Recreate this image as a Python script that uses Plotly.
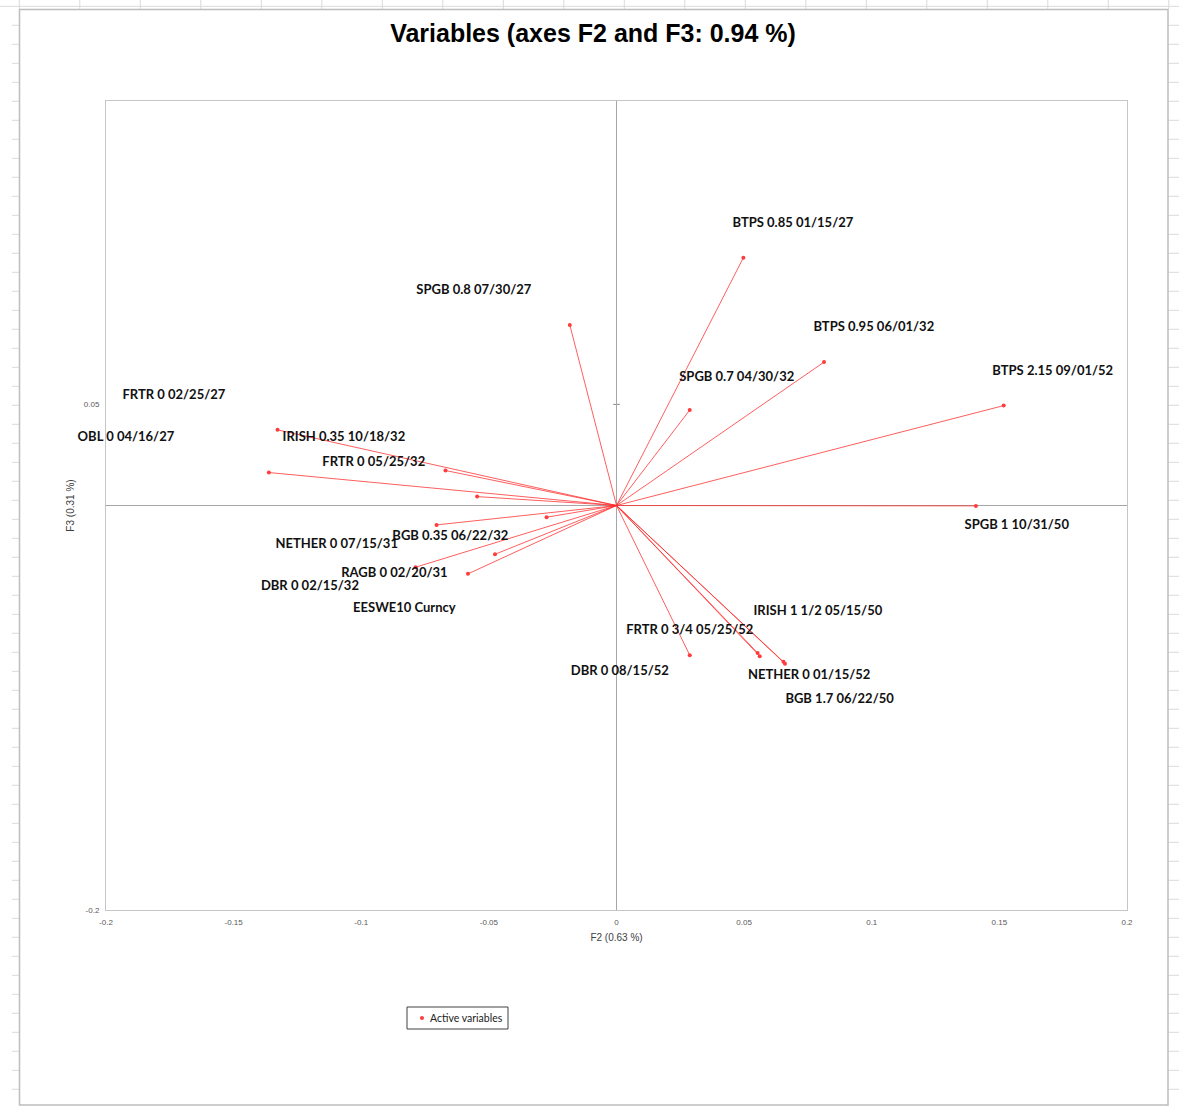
import plotly.graph_objects as go

# Correlation circle data: coordinates of each variable on factors F2 and F3
variables = [
    "BTPS 0.85 01/15/27", "SPGB 0.8 07/30/27", "BTPS 0.95 06/01/32", "SPGB 0.7 04/30/32",
    "BTPS 2.15 09/01/52", "SPGB 1 10/31/50", "FRTR 0 02/25/27", "OBL 0 04/16/27",
    "IRISH 0.35 10/18/32", "FRTR 0 05/25/32", "NETHER 0 07/15/31", "BGB 0.35 06/22/32",
    "RAGB 0 02/20/31", "DBR 0 02/15/32", "EESWE10 Curncy", "IRISH 1 1/2 05/15/50",
    "FRTR 0 3/4 05/25/52", "DBR 0 08/15/52", "NETHER 0 01/15/52", "BGB 1.7 06/22/50",
]
f2 = [0.0497, -0.0183, 0.0813, 0.0287, 0.1517, 0.1408, -0.0546, -0.1362,
      -0.1328, -0.0670, -0.0705, -0.0274, -0.0476, -0.0787, -0.0582, 0.0654,
      0.0553, 0.0287, 0.0561, 0.0660]
f3 = [0.1225, 0.0893, 0.0709, 0.0472, 0.0494, -0.0002, 0.0044, 0.0163,
      0.0374, 0.0173, -0.0096, -0.0058, -0.0241, -0.0305, -0.0338, -0.0773,
      -0.0729, -0.0740, -0.0745, -0.0782]

# Where each variable name is written (axis units)
label_f2 = [0.0691, -0.0559, 0.1008, 0.0471, 0.1709, 0.1568, -0.1734, -0.1922,
            -0.1068, -0.0951, -0.1096, -0.0651, -0.0870, -0.1201, -0.0831, 0.0789,
            0.0287, 0.0013, 0.0755, 0.0874]
label_f3 = [0.1393, 0.1062, 0.0880, 0.0634, 0.0661, -0.0101, 0.0542, 0.0335,
            0.0335, 0.0213, -0.0196, -0.0156, -0.0338, -0.0401, -0.0510, -0.0526,
            -0.0617, -0.0821, -0.0844, -0.0962]

x_ticks = [-0.2, -0.15, -0.1, -0.05, 0, 0.05, 0.1, 0.15, 0.2]
x_tick_text = ["-0.2", "-0.15", "-0.1", "-0.05", "0", "0.05", "0.1", "0.15", "0.2"]
y_ticks = [-0.2, 0.05]
y_tick_text = ["-0.2", "0.05"]

title_text = "Variables (axes F2 and F3: 0.94 %)"
x_title = "F2 (0.63 %)"
y_title = "F3 (0.31 %)"
legend_name = "Active variables"

# Page geometry
FIG_W, FIG_H = 1179, 1106
M_L, M_R, M_T, M_B = 106, 52, 101, 196
PLOT_W = FIG_W - M_L - M_R
PLOT_H = FIG_H - M_T - M_B


def paper_x(px):
    return (px - M_L) / PLOT_W


def paper_y(py):
    return (M_T + PLOT_H - py) / PLOT_H


RED_LINE = "rgba(255,40,40,0.75)"
RED_DOT = "#ff3b3b"

# Vectors from the origin to every variable
vx, vy = [], []
for a, b in zip(f2, f3):
    vx += [0, a, None]
    vy += [0, b, None]

fig = go.Figure()
fig.add_trace(go.Scatter(
    x=vx, y=vy, mode="lines",
    line=dict(color=RED_LINE, width=1),
    hoverinfo="skip", showlegend=False,
))
fig.add_trace(go.Scatter(
    x=f2, y=f3, mode="markers", name=legend_name,
    marker=dict(color=RED_DOT, size=4), showlegend=False,
    text=variables, hovertemplate="%{text}<br>F2=%{x}<br>F3=%{y}<extra></extra>",
))
fig.add_trace(go.Scatter(
    x=label_f2, y=label_f3, mode="text", text=variables,
    textposition="middle center", cliponaxis=False,
    textfont=dict(family="Lato, Carlito, sans-serif", size=13, color="#111111", weight="bold"),
    hoverinfo="skip", showlegend=False,
))

shapes = []
grid_col = "#dadada"
# Worksheet cell lines around the chart object
shapes.append(dict(type="line", xref="paper", yref="paper",
                   x0=paper_x(0), x1=paper_x(FIG_W), y0=paper_y(6.3), y1=paper_y(6.3),
                   line=dict(color=grid_col, width=1), layer="below"))
cx = 19.3
while cx <= FIG_W:
    shapes.append(dict(type="line", xref="paper", yref="paper",
                       x0=paper_x(cx), x1=paper_x(cx), y0=paper_y(0), y1=paper_y(9),
                       line=dict(color=grid_col, width=1), layer="below"))
    cx += 60.5
ry = 25.3
while ry <= FIG_H:
    for xa, xb in [(12, 19), (1168, FIG_W)]:
        shapes.append(dict(type="line", xref="paper", yref="paper",
                           x0=paper_x(xa), x1=paper_x(xb), y0=paper_y(ry), y1=paper_y(ry),
                           line=dict(color=grid_col, width=1), layer="below"))
    ry += 19.0
# Chart area frame
shapes.append(dict(type="rect", xref="paper", yref="paper",
                   x0=paper_x(19.5), x1=paper_x(1168), y0=paper_y(1105), y1=paper_y(9.5),
                   line=dict(color="#bdbdbd", width=1.5), fillcolor="rgba(0,0,0,0)", layer="below"))
# Small cross tick on the vertical axis
shapes.append(dict(type="line", xref="x", yref="y",
                   x0=-0.0013, x1=0.0013, y0=0.05, y1=0.05,
                   line=dict(color="#8a8a8a", width=1), layer="below"))
# Legend box with its series key
shapes.append(dict(type="rect", xref="paper", yref="paper",
                   x0=paper_x(407), x1=paper_x(508), y0=paper_y(1029), y1=paper_y(1007),
                   line=dict(color="#404040", width=1), fillcolor="white"))
shapes.append(dict(type="circle", xref="paper", yref="paper",
                   x0=paper_x(420), x1=paper_x(424), y0=paper_y(1020), y1=paper_y(1016),
                   line=dict(color=RED_DOT, width=0), fillcolor=RED_DOT))

annotations = [dict(text=legend_name, xref="paper", yref="paper",
                    x=paper_x(428), y=paper_y(1018), xanchor="left", yanchor="middle",
                    showarrow=False,
                    font=dict(family="Lato, Carlito, sans-serif", size=10.5, color="#222222"))]

axis_font = dict(family="Liberation Sans, Arial, sans-serif", size=8, color="#595959")

fig.update_layout(
    width=FIG_W, height=FIG_H,
    margin=dict(l=M_L, r=M_R, t=M_T, b=M_B, autoexpand=False),
    paper_bgcolor="white", plot_bgcolor="rgba(0,0,0,0)",
    title=dict(text=title_text, x=593 / FIG_W, xanchor="center",
               y=1 - 33 / FIG_H, yanchor="middle",
               font=dict(family="Liberation Sans, Arial, sans-serif", size=25, color="#000000", weight="bold")),
    xaxis=dict(range=[-0.2, 0.2], tickvals=x_ticks, ticktext=x_tick_text, tickfont=axis_font,
               showgrid=False, zeroline=True, zerolinecolor="#a6a6a6", zerolinewidth=1,
               showline=True, mirror=True, linecolor="#c6c6c6", linewidth=1, ticks="",
               ticklabelstandoff=4,
               title=dict(text=x_title, standoff=8,
                          font=dict(family="Liberation Sans, Arial, sans-serif", size=10, color="#404040"))),
    yaxis=dict(range=[-0.2, 0.2], tickvals=y_ticks, ticktext=y_tick_text, tickfont=axis_font,
               showgrid=False, zeroline=True, zerolinecolor="#a6a6a6", zerolinewidth=1,
               showline=True, mirror=True, linecolor="#c6c6c6", linewidth=1, ticks="",
               ticklabelstandoff=4,
               title=dict(text=y_title, standoff=7,
                          font=dict(family="Liberation Sans, Arial, sans-serif", size=10, color="#404040"))),
    showlegend=False,
    shapes=shapes,
    annotations=annotations,
)

fig.write_html("out.html")
